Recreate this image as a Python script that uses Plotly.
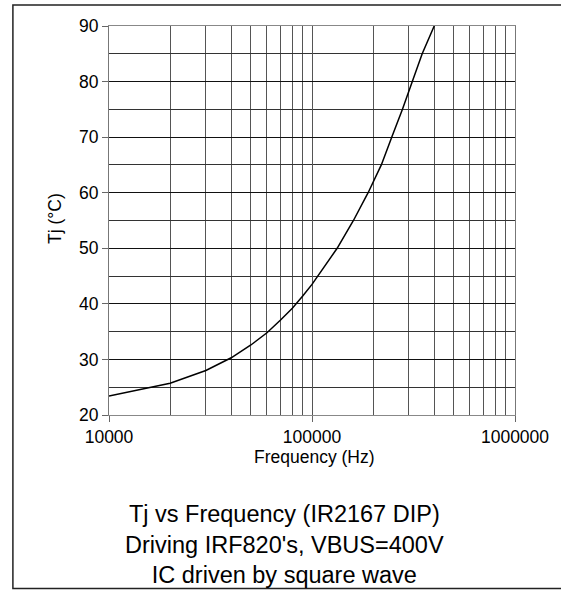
import plotly.graph_objects as go

freq_hz = [10000, 20000, 30000, 40000, 50000, 60000, 70000, 80000, 90000, 100000,
           133000, 160000, 189000, 219500, 247000, 279000, 312000, 349000, 400000]
tj_c = [23.4, 25.7, 28.0, 30.3, 32.6, 34.8, 37.1, 39.2, 41.4, 43.5,
        50.0, 55.0, 60.0, 65.0, 70.0, 75.0, 80.0, 85.0, 90.0]

x_tick_vals = [10000, 100000, 1000000]
x_tick_text = ["10000", "100000", "1000000"]
y_tick_vals = [20, 30, 40, 50, 60, 70, 80, 90]

title_lines = ["Tj vs Frequency (IR2167 DIP)", "Driving IRF820's, VBUS=400V", "IC driven by square wave"]
x_title = "Frequency (Hz)"
y_title = "Tj (°C)"

FONT = "Arial, Liberation Sans, sans-serif"

fig = go.Figure()
fig.add_trace(go.Scatter(x=freq_hz, y=tj_c, mode="lines",
                         line=dict(color="black", width=1.5), showlegend=False,
                         hoverinfo="skip"))

fig.update_layout(
    width=561, height=590,
    margin=dict(l=109, r=38, t=26, b=175),
    paper_bgcolor="white", plot_bgcolor="white",
    font=dict(family=FONT, size=17.5, color="black"),
    xaxis=dict(type="log", range=[4, 6], tickvals=x_tick_vals, ticktext=x_tick_text,
               showgrid=True, gridcolor="#555555", gridwidth=1,
               minor=dict(dtick="D1", showgrid=True, gridcolor="#555555", gridwidth=1, ticks=""),
               ticks="outside", ticklen=6, tickcolor="#666666",
               showline=True, linecolor="#888888", linewidth=1, mirror=True,
               tickfont=dict(size=17.5), zeroline=False),
    yaxis=dict(range=[20, 90], tickvals=y_tick_vals,
               showgrid=True, gridcolor="#111111", gridwidth=1,
               minor=dict(dtick=5, showgrid=True, gridcolor="#333333", gridwidth=1, ticks=""),
               ticks="outside", ticklen=6, tickcolor="#666666",
               showline=True, linecolor="#777777", linewidth=1, mirror=True,
               tickfont=dict(size=17.5), zeroline=False),
)

fig.add_annotation(text=x_title, xref="paper", yref="paper", x=0.507, y=-0.108,
                   xanchor="center", yanchor="middle", showarrow=False,
                   font=dict(size=17.5))
fig.add_annotation(text=y_title, xref="paper", yref="paper", x=-0.133, y=0.504,
                   xanchor="center", yanchor="middle", showarrow=False, textangle=-90,
                   font=dict(size=17.5))
fig.add_annotation(text="<br>".join(title_lines), xref="paper", yref="paper",
                   x=0.432, y=-0.334, xanchor="center", yanchor="middle",
                   showarrow=False, font=dict(size=23.5))

fig.add_shape(type="rect", xref="paper", yref="paper",
              x0=-0.2367, x1=1.12, y0=-0.446, y1=1.054,
              line=dict(color="#222222", width=1.5), fillcolor="rgba(0,0,0,0)", layer="below")

fig.write_html("out.html", config={"displayModeBar": False},
               post_script="document.body.style.margin='0px';")
